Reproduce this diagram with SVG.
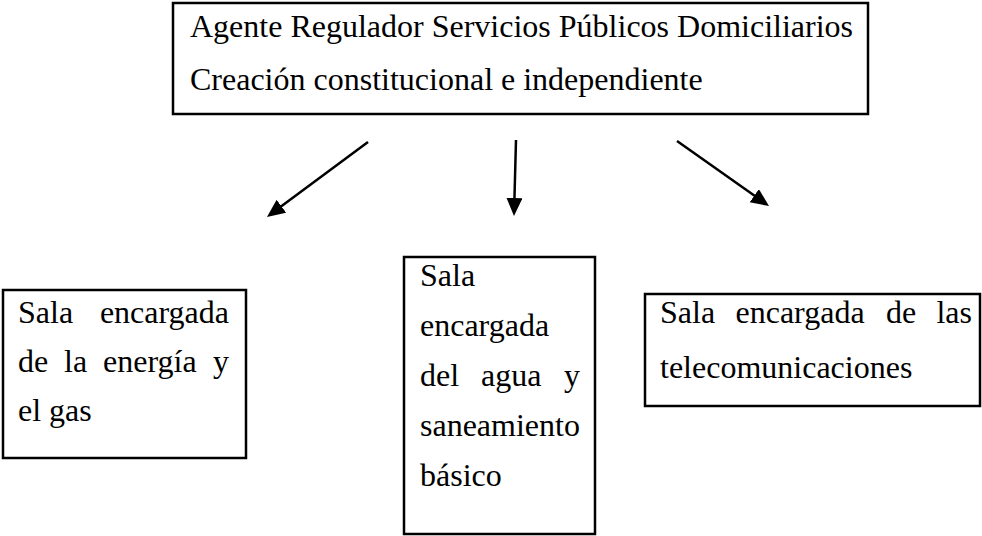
<svg xmlns="http://www.w3.org/2000/svg" width="982" height="536" viewBox="0 0 982 536">
<style>
.box{fill:#fff;stroke:#000;stroke-width:2.5}
.t{font-family:"Liberation Serif","Times New Roman",serif;font-size:32px;fill:#000}
.e{text-anchor:end}
.c{stroke:#000;stroke-width:2.5;fill:none}
</style>
<defs>
<marker id="ah" markerUnits="userSpaceOnUse" markerWidth="20" markerHeight="18" refX="6" refY="8" orient="auto">
<path d="M0,0 L18,8 L0,16 z" fill="#000"/>
</marker>
</defs>
<rect width="982" height="536" fill="#fff"/>
<g id="top">
<rect class="box" x="173" y="3" width="695" height="111"/>
<text class="t" x="190" y="37">Agente Regulador Servicios Públicos Domiciliarios</text>
<text class="t" x="190" y="90">Creación constitucional e independiente</text>
</g>
<g id="connectors">
<line class="c" x1="368" y1="142" x2="276.6" y2="209.8" marker-end="url(#ah)"/>
<line class="c" x1="516" y1="140" x2="514.3" y2="204" marker-end="url(#ah)"/>
<line class="c" x1="677" y1="141" x2="759.2" y2="199.1" marker-end="url(#ah)"/>
</g>
<g id="energia">
<rect class="box" x="3" y="290" width="243" height="168"/>
<text class="t" x="18" y="323">Sala</text>
<text class="t e" x="229" y="323">encargada</text>
<text class="t" x="18" y="372">de</text>
<text class="t" x="64" y="372">la</text>
<text class="t" x="103" y="372">energía</text>
<text class="t e" x="229" y="372">y</text>
<text class="t" x="18" y="421">el gas</text>
</g>
<g id="agua">
<rect class="box" x="404" y="257" width="191" height="277"/>
<text class="t" x="420" y="286">Sala</text>
<text class="t" x="420" y="336">encargada</text>
<text class="t" x="420" y="386">del</text>
<text class="t" x="481" y="386">agua</text>
<text class="t e" x="580" y="386">y</text>
<text class="t" x="420" y="436">saneamiento</text>
<text class="t" x="420" y="486">básico</text>
</g>
<g id="telecom">
<rect class="box" x="645" y="294" width="335" height="112"/>
<text class="t" x="660" y="323">Sala</text>
<text class="t" x="735.5" y="323">encargada</text>
<text class="t" x="886" y="323">de</text>
<text class="t e" x="972" y="323">las</text>
<text class="t" x="660" y="378">telecomunicaciones</text>
</g>
</svg>
